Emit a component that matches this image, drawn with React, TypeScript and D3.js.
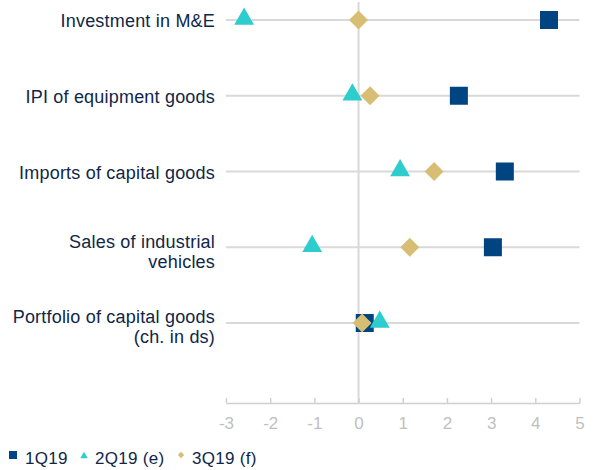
import * as d3 from 'd3';
import React, { useRef, useEffect } from 'react';

// row labels (multi-line where the original breaks them)
const categories = [
  ['Investment in M&E'],
  ['IPI of equipment goods'],
  ['Imports of capital goods'],
  ['Sales of industrial', 'vehicles'],
  ['Portfolio of capital goods', '(ch. in ds)'],
];

const q1 = [4.31, 2.27, 3.31, 3.04, 0.14];
const q2 = [-2.59, -0.14, 0.94, -1.05, 0.48];
const q3 = [0.0, 0.26, 1.71, 1.16, 0.08];

const xTicks = [-3, -2, -1, 0, 1, 2, 3, 4, 5];

const seriesNames = ['1Q19', '2Q19 (e)', '3Q19 (f)'];
const colors = ['#004481', '#2dcccd', '#d8be75'];

const W = 595;
const H = 470;
const FONT = '"Liberation Sans", Arial, sans-serif';
const TEXT = '#0f2747';

function App() {
  const svgRef = useRef<SVGSVGElement>(null);

  useEffect(() => {
    const svg = d3.select(svgRef.current);
    svg.selectAll('*').remove();

    const x = d3.scaleLinear().domain([-3, 5]).range([226, 579.5]);
    const y = d3.scalePoint<number>().domain(categories.map((_, i) => i)).range([20, 323]);
    const axisY = 403;

    // horizontal grid lines per row
    svg.append('g')
      .selectAll('line')
      .data(categories.map((_, i) => i))
      .join('line')
      .attr('x1', x(-3))
      .attr('x2', x(5))
      .attr('y1', d => y(d)!)
      .attr('y2', d => y(d)!)
      .attr('stroke', '#d9d9d9')
      .attr('stroke-width', 2);

    // zero line
    svg.append('line')
      .attr('x1', x(0)).attr('x2', x(0))
      .attr('y1', 2).attr('y2', axisY)
      .attr('stroke', '#d9d9d9')
      .attr('stroke-width', 2);

    // x axis, ticks pointing up
    const xAxis = d3.axisBottom(x)
      .tickValues(xTicks)
      .tickFormat(d => String(d))
      .tickSizeInner(-5)
      .tickSizeOuter(0)
      .tickPadding(14);

    const gx = svg.append('g')
      .attr('transform', `translate(0,${axisY})`)
      .call(xAxis);
    gx.select('.domain').attr('stroke', '#d0d0d0').attr('stroke-width', 1.5);
    gx.selectAll('.tick line').attr('stroke', '#d0d0d0').attr('stroke-width', 1.5);
    gx.selectAll('.tick text')
      .attr('fill', '#bfbfbf')
      .attr('font-size', 17)
      .attr('font-family', FONT);

    // row labels
    const labels = svg.append('g')
      .attr('font-family', FONT)
      .attr('font-size', 18)
      .attr('letter-spacing', 0.2)
      .attr('fill', TEXT)
      .attr('text-anchor', 'end');

    categories.forEach((lines, i) => {
      const t = labels.append('text')
        .attr('x', 215)
        .attr('y', y(i)!);
      lines.forEach((ln, j) => {
        const base = lines.length > 1 ? -6 : 1;
        t.append('tspan')
          .attr('x', 215)
          .attr('y', y(i)! + base + j * 20)
          .attr('dy', '0.35em')
          .text(ln);
      });
    });

    // markers
    const sq = 18;
    svg.append('g')
      .selectAll('rect')
      .data(q1)
      .join('rect')
      .attr('x', d => x(d) - sq / 2)
      .attr('y', (_, i) => y(i)! - sq / 2)
      .attr('width', sq)
      .attr('height', sq)
      .attr('fill', colors[0]);

    const tri = d3.symbol().type(d3.symbolTriangle).size(170);
    svg.append('g')
      .selectAll('path')
      .data(q2)
      .join('path')
      .attr('d', tri)
      .attr('transform', (d, i) => `translate(${x(d)},${y(i)! - 1})`)
      .attr('fill', colors[1]);

    const dia = d3.symbol().type(d3.symbolSquare).size(180);
    svg.append('g')
      .selectAll('path')
      .data(q3)
      .join('path')
      .attr('d', dia)
      .attr('transform', (d, i) => `translate(${x(d)},${y(i)!}) rotate(45)`)
      .attr('fill', colors[2]);

    // legend
    const leg = svg.append('g')
      .attr('font-family', FONT)
      .attr('font-size', 17)
      .attr('letter-spacing', 0.3)
      .attr('fill', TEXT);
    const ly = 456;
    const legX = [9, 80, 178];
    const legTextX = [25, 95, 192];

    leg.append('rect')
      .attr('x', legX[0]).attr('y', ly - 5)
      .attr('width', 8).attr('height', 8)
      .attr('fill', colors[0]);
    leg.append('path')
      .attr('d', d3.symbol().type(d3.symbolTriangle).size(24)())
      .attr('transform', `translate(${legX[1] + 4},${ly})`)
      .attr('fill', colors[1]);
    leg.append('path')
      .attr('d', d3.symbol().type(d3.symbolSquare).size(20)())
      .attr('transform', `translate(${legX[2] + 3},${ly - 1}) rotate(45)`)
      .attr('fill', colors[2]);

    seriesNames.forEach((name, i) => {
      leg.append('text')
        .attr('x', legTextX[i])
        .attr('y', ly + 2)
        .attr('dy', '0.35em')
        .text(name);
    });
  });

  return (
    <div style={{ position: 'fixed', left: 0, top: 0 }}>
      <svg ref={svgRef} width={W} height={H} style={{ display: 'block', background: '#fff' }} />
    </div>
  );
}

export default App;
